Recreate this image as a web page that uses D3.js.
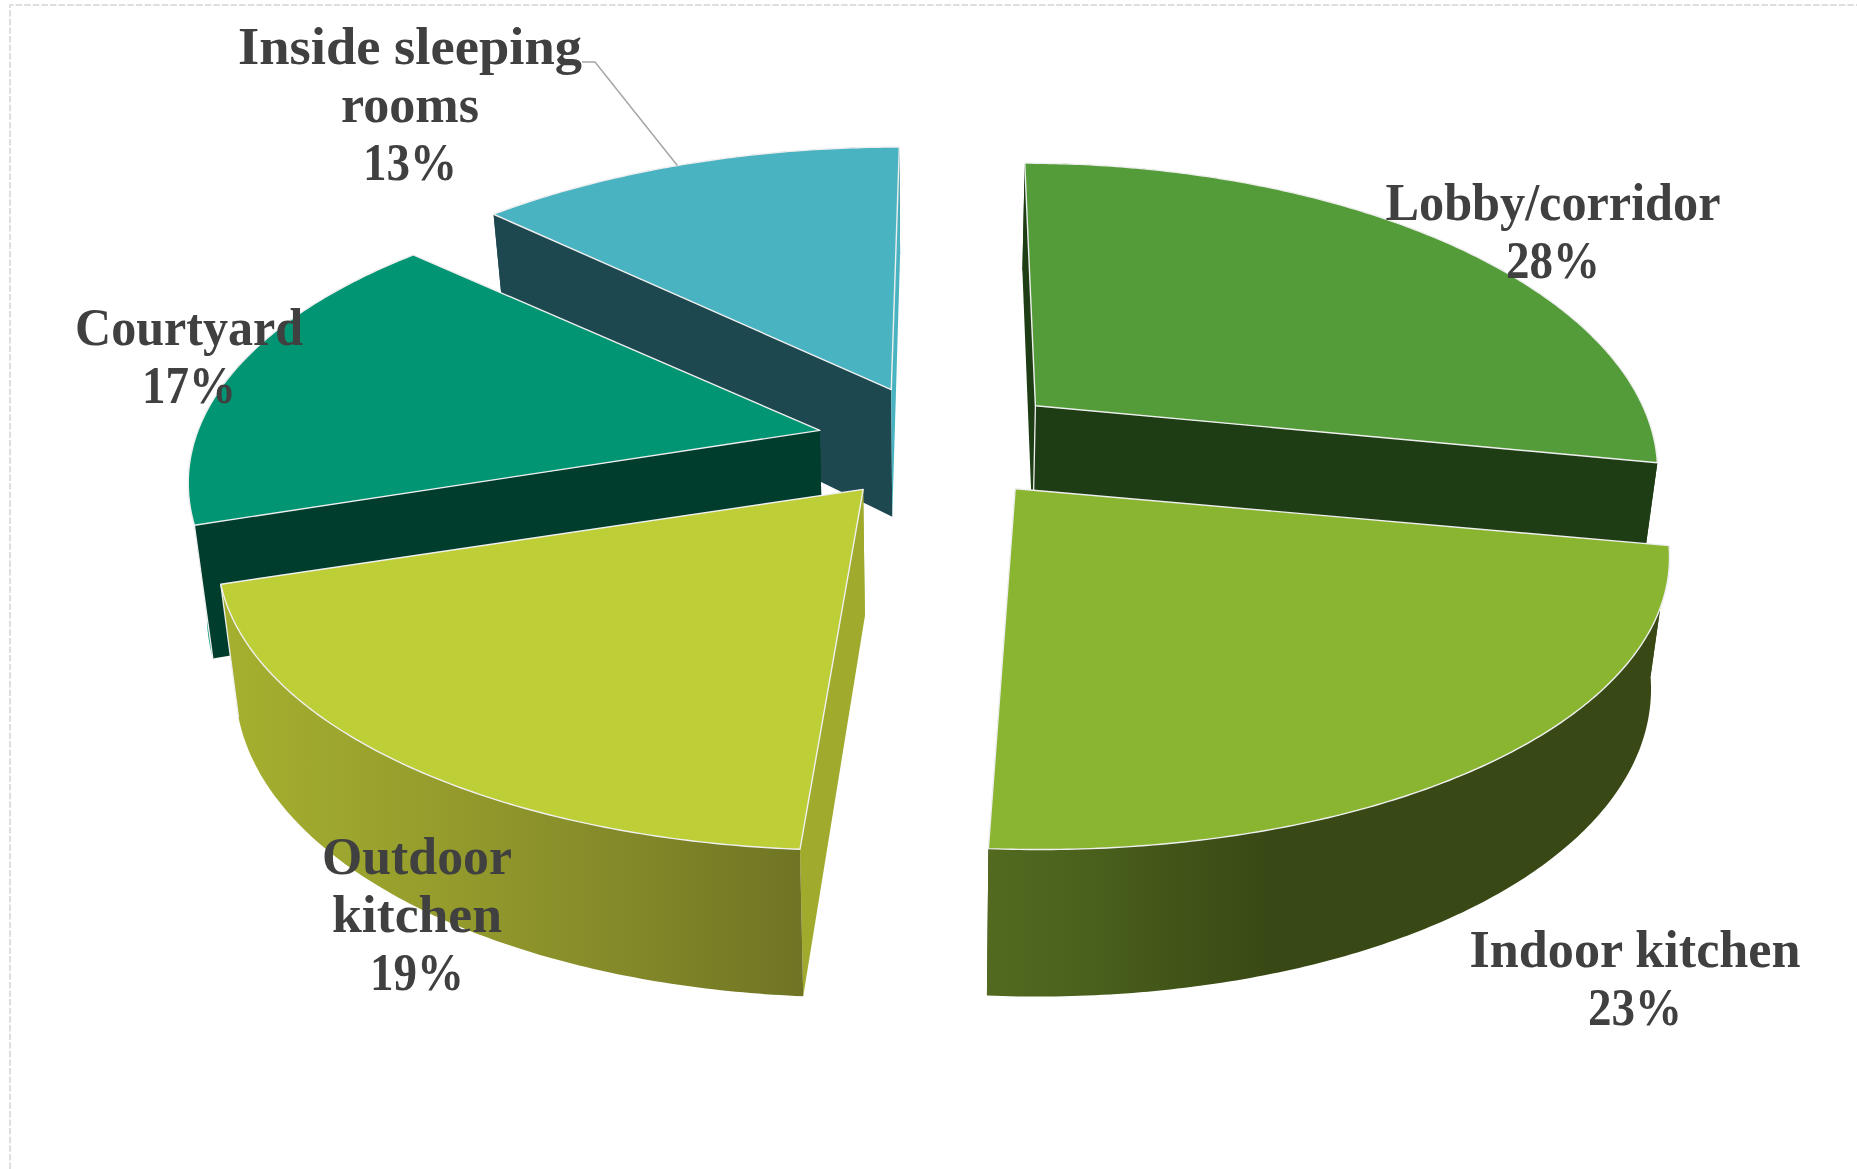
<!DOCTYPE html>
<html>
<head>
<meta charset="utf-8">
<title>Location shares</title>
<script src="https://cdn.jsdelivr.net/npm/d3@7/dist/d3.min.js"></script>
<style>
  html, body { margin: 0; padding: 0; background: #fff; overflow: hidden; }
  svg { display: block; }
  text { font-family: "Liberation Serif", serif; font-weight: 700; fill: #404040; }
</style>
</head>
<body>
<svg id="chart" width="1857" height="1169"></svg>
<script>
// Shares by location, clockwise from twelve o'clock
const categories = ["Lobby/corridor", "Indoor kitchen", "Outdoor kitchen", "Courtyard", "Inside sleeping rooms"];
const shares = [28, 23, 19, 17, 13];

// Wrapped label lines for each category
const labelLines = [
  ["Lobby/corridor"],
  ["Indoor kitchen"],
  ["Outdoor", "kitchen"],
  ["Courtyard"],
  ["Inside sleeping", "rooms"]
];

// Label anchors: centre x and first baseline, plus fitted line widths
const labelX = [1553, 1635, 417, 189, 410];
const labelY = [220, 967, 874, 345, 64];
const labelWidths = [[335], [331], [190, 170], [228], [344, 138]];
const percentWidth = 94;

// Face colours per slice
const topColors   = ["#549C39", "#89B531", "#BECE37", "#019573", "#4AB3C1"];
const startColors = ["#1F3D15", "#394915", "#A0AB2D", "#013D2C", "#1E4850"];
const endColors   = ["#1F3D15", "#394915", "#A0AB2D", "#013D2C", "#4AB3C1"];
const rimColors   = ["#1F3D15", "url(#rim-indoor)", "url(#rim-outdoor)", "#019573", "#1E4850"];

// Explosion of each slice from the common centre, its horizontal reach
// and the x its far edge converges on
const pullX = [134, 136, 112, 115, 103];
const pullY = [57, 59, 60, 53, 57];
const reach = [0.967, 1.015, 1.005, 0.99, 1];
const cameraX = [965, 915, 915, 755, 935];

// Perspective model of the pie disc
const centerX = 932, centerY = 442;
const radius = 628;       // horizontal half-axis
const tilt = 0.462;       // vertical foreshortening
const persp = 0.196;      // near/far scaling
const baseDepth = 127;    // wall height at the disc plane
const depthGrow = 102;    // extra wall height towards the viewer
const vanishX = 930;      // wall bottoms lean towards this x
const lean = 0.025;
const rotation = 0.1 * Math.PI / 180;

const svg = d3.select("#chart");
const defs = svg.append("defs");

function rimGradient(id, x1, x2, stops) {
  const g = defs.append("linearGradient")
    .attr("id", id).attr("gradientUnits", "userSpaceOnUse")
    .attr("x1", x1).attr("x2", x2).attr("y1", 0).attr("y2", 0);
  stops.forEach(([o, c]) => g.append("stop").attr("offset", o).attr("stop-color", c));
}
rimGradient("rim-indoor", 988, 1650, [[0, "#52691F"], [0.12, "#4C631D"], [0.42, "#394915"], [1, "#394915"]]);
rimGradient("rim-outdoor", 225, 805, [[0, "#A5B02F"], [0.38, "#959C2C"], [0.75, "#808528"], [1, "#6E7423"]]);

// Border of the chart area
svg.append("path")
  .attr("d", d3.line()([[10, 1169], [10, 5], [1857, 5]]))
  .attr("fill", "none").attr("stroke", "#DEDEDE").attr("stroke-width", 2)
  .attr("stroke-dasharray", "6.5 2.1");

const arcs = d3.pie().sort(null).value(d => d)
  .startAngle(rotation)
  .endAngle(rotation + 2 * Math.PI)(shares);

const midAngle = a => (a.startAngle + a.endAngle) / 2;

function apexOf(a, i) {
  const m = midAngle(a);
  return [centerX + pullX[i] * Math.sin(m), centerY - pullY[i] * Math.cos(m)];
}

// Disc point at a given pie angle, seen through the camera
function rimPoint(apex, angle, i) {
  const x = Math.sin(angle), y = -Math.cos(angle);
  const w = 1 - persp * y;
  return {
    p: [cameraX[i] + (apex[0] - cameraX[i] + radius * reach[i] * x) / w, apex[1] + radius * tilt * y / w],
    w
  };
}

// The same point dropped to the underside of the disc
function dropped(pt, w) {
  const h = baseDepth + depthGrow * (1 - w);
  return [vanishX + (pt[0] - vanishX) * (1 - lean), pt[1] + h];
}

const polyline = d3.line();

function rimSamples(apex, a, i) {
  const n = Math.ceil((a.endAngle - a.startAngle) / 0.01);
  return d3.range(n + 1).map(k => rimPoint(apex, a.startAngle + (a.endAngle - a.startAngle) * k / n, i));
}

// Back-to-front painting order
const paintOrder = [4, 3, 0, 2, 1];
const edgeColor = "#EFEFEF";

paintOrder.forEach(i => {
  const a = arcs[i];
  const apex = apexOf(a, i);
  const samples = rimSamples(apex, a, i);
  const first = samples[0], last = samples[samples.length - 1];
  const apexLow = dropped(apex, 1);
  const group = svg.append("g").attr("class", "slice");

  const face = (pts, fill) => group.append("path")
    .attr("d", polyline(pts) + "Z")
    .attr("fill", fill);

  const faces = {
    start: () => face([apex, first.p, dropped(first.p, first.w), apexLow], startColors[i]),
    end: () => face([apex, last.p, dropped(last.p, last.w), apexLow], endColors[i]),
    rim: () => face(samples.map(s => s.p).concat(samples.map(s => dropped(s.p, s.w)).reverse()), rimColors[i])
  };

  // Slices turned away from the viewer show their cut walls over the rim
  if (Math.cos(midAngle(a)) > 0) {
    faces.rim(); faces.start(); faces.end();
  } else {
    faces.start(); faces.end(); faces.rim();
  }

  // Pale vertical seams where two wall faces meet
  const seam = (p, q) => group.append("path")
    .attr("d", polyline([p, q])).attr("fill", "none")
    .attr("stroke", edgeColor).attr("stroke-width", 1.3);
  if (i === 0) seam(apex, apexLow);
  if (i === 2) seam(last.p, dropped(last.p, last.w));
  if (i === 3) seam(first.p, dropped(first.p, first.w));

  group.append("path")
    .attr("d", polyline([apex].concat(samples.map(s => s.p))) + "Z")
    .attr("fill", topColors[i])
    .attr("stroke", edgeColor).attr("stroke-width", 1.4)
    .attr("stroke-linejoin", "round");
});

// Leader line for the top label
const leaderEnd = rimPoint(apexOf(arcs[4], 4), midAngle(arcs[4]) - 0.02, 4).p;
svg.append("path")
  .attr("d", polyline([[582, 62], [595, 62], leaderEnd]))
  .attr("fill", "none").attr("stroke", "#A6A6A6").attr("stroke-width", 1.5);

// Category labels with percentages
const lineStep = 58;
categories.forEach((c, i) => {
  const lines = labelLines[i].concat(shares[i] + "%");
  const widths = labelWidths[i].concat(percentWidth);
  lines.forEach((l, k) => {
    svg.append("text")
      .attr("text-anchor", "middle")
      .attr("font-size", 52)
      .attr("x", labelX[i])
      .attr("y", labelY[i] + k * lineStep)
      .attr("textLength", widths[k])
      .attr("lengthAdjust", "spacingAndGlyphs")
      .text(l);
  });
});
</script>
</body>
</html>
